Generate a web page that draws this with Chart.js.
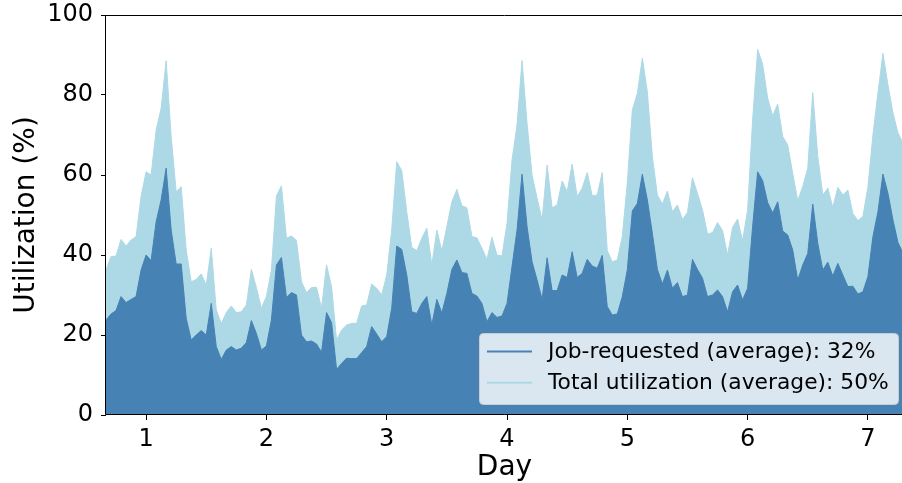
<!DOCTYPE html>
<html>
<head>
<meta charset="utf-8">
<script src="https://cdn.jsdelivr.net/npm/chart.js@4.4.1/dist/chart.umd.min.js"></script>
<style>
  html, body { margin: 0; padding: 0; background: #fff; overflow: hidden; }
  #wrap { width: 904px; height: 483px; }
</style>
</head>
<body>
<div id="wrap"><canvas id="chart" width="904" height="483"></canvas></div>
<script>
// Hourly samples; the first one is taken at 16:00 on day 0.
const FIRST_SAMPLE_DAY = 2 / 3;

// Job-requested utilization (%), one value per hour
const jobRequested = [
  23.75, 25.25, 26.1, 29.6, 28.1, 28.9, 29.6, 36.25, 40, 38.6,
  48.3, 53.75, 61.7, 46.25, 37.75, 37.75, 24.2, 18.75, 20, 21.1,
  20, 27.9, 17.1, 13.9, 16.25, 17.1, 16.25, 16.7, 18.1, 23.6,
  20.4, 16.25, 17.25, 23.75, 37.5, 39.4, 29.4, 30.6, 30, 20,
  18.3, 18.5, 17.75, 15.7, 25.6, 23.1, 11.4, 12.9, 14.2, 14.1,
  14.1, 15.6, 17.1, 22.1, 20.25, 18.3, 19.6, 26.7, 42.25, 41.4,
  35, 25.8, 25.4, 27.9, 29.6, 22.5, 28.9, 25.5, 30.4, 36.4,
  38.75, 35.6, 35.4, 30.4, 29.75, 27.9, 23.3, 25.6, 24.4, 24.75,
  27.9, 37.1, 46.25, 60.2, 47.1, 38.3, 33.75, 28.9, 39.3, 31.1,
  31.1, 35, 34.4, 40.8, 34.4, 35.4, 38.9, 37.25, 36.7, 39.9,
  27.1, 25, 25.25, 29.6, 36.25, 51, 52.9, 60.2, 53.75, 45.4,
  36.4, 32.75, 36.25, 31.7, 33.1, 29.6, 30, 38.9, 36.4, 34.2,
  29.6, 30, 31.25, 29.6, 25.8, 30.8, 32.5, 28.75, 31.7, 47.1,
  60.8, 58.6, 53.1, 50.5, 53.3, 46, 45, 41.25, 33.75, 37.5,
  40.4, 52.75, 42.9, 36.25, 38.2, 34.75, 37.9, 35, 32.1, 32.2,
  30.25, 30.8, 34.6, 44.6, 50.8, 60.25, 55.4, 48.75, 43.1, 40.5
];

// Total utilization (%), one value per hour
const totalUtilization = [
  36.25, 39.6, 39.75, 43.9, 42.25, 43.75, 44.6, 54.6, 60.8, 60,
  71.25, 76.7, 88.6, 69.6, 55.8, 57.1, 41.25, 33.3, 33.9, 35.25,
  32.5, 41.7, 26.25, 22.9, 25.6, 27.25, 25.6, 25.8, 27.5, 36.4,
  31.9, 26.7, 29.6, 36.25, 54.75, 57.3, 44.2, 44.75, 43.6, 33.3,
  30.6, 31.9, 31.9, 26.7, 37.5, 32.1, 18.75, 21.25, 22.5, 22.9,
  22.9, 27.25, 27.5, 32.75, 31.7, 30, 35, 46.25, 63.3, 61.1,
  50.8, 41.9, 41.1, 44.2, 46.7, 37.5, 46.25, 41, 47.1, 53.3,
  56.4, 52.3, 51.8, 44.6, 44.3, 41.7, 38.9, 44.4, 40, 39.75,
  47.9, 63.75, 72.5, 88.6, 72.9, 60, 54.2, 48.75, 62.5, 51.8,
  52.5, 58.5, 55.8, 62.75, 54.6, 56.7, 60.6, 54.8, 55, 60.6,
  41.1, 38.3, 38.75, 44.6, 58, 76.25, 80.4, 89.2, 80.8, 64.6,
  55, 52.75, 56, 50.8, 52.5, 48.9, 50.6, 59.3, 55.4, 51.25,
  45.25, 45.6, 48.1, 46.1, 40, 46.9, 49, 43.6, 51.25, 73.75,
  91.4, 87.7, 79.2, 74.75, 77.75, 69.6, 67.5, 60.4, 53.6, 57.1,
  61.7, 80.6, 64.6, 55, 56.7, 51.9, 56.9, 55, 56.25, 50.4,
  48.6, 49.6, 57, 70, 80.5, 90.4, 82.5, 75.5, 70.5, 68
];

const dayTicks = [1, 2, 3, 4, 5, 6, 7];
const utilizationTicks = [0, 20, 40, 60, 80, 100];
const seriesLabels = [
  'Job-requested (average): 32%',
  'Total utilization (average): 50%'
];

const FONT = "'DejaVu Sans', 'Liberation Sans', sans-serif";
const STEEL_BLUE = '#4682b4';
const LIGHT_BLUE = '#add8e6';

const sampleDays = jobRequested.map((_, i) => FIRST_SAMPLE_DAY + i / 24);
const asPoints = values => values.map((v, i) => ({ x: sampleDays[i], y: v }));

// Axes frame drawn above the filled areas
const frame = {
  id: 'frame',
  afterDatasetsDraw(chart) {
    const { ctx, chartArea: a } = chart;
    ctx.save();
    ctx.strokeStyle = '#000';
    ctx.lineWidth = 1;
    ctx.beginPath();
    ctx.moveTo(a.left - 0.5, a.bottom - 0.5);
    ctx.lineTo(a.left - 0.5, a.top + 0.5);
    ctx.lineTo(a.right + 0.5, a.top + 0.5);
    ctx.lineTo(a.right + 0.5, a.bottom - 0.5);
    ctx.lineTo(a.left - 0.5, a.bottom - 0.5);
    ctx.stroke();
    ctx.restore();
  }
};

// Legend box in the lower right corner of the plot
const legendBox = {
  id: 'legendBox',
  afterDraw(chart) {
    const { ctx, chartArea: a } = chart;
    const w = 419, h = 71, r = 4;
    const x = a.right - 4 - w - 0.5;
    const y = a.bottom - 10 - h - 0.5;
    ctx.save();
    ctx.beginPath();
    ctx.moveTo(x + r, y);
    ctx.lineTo(x + w - r, y);
    ctx.arcTo(x + w, y, x + w, y + r, r);
    ctx.lineTo(x + w, y + h - r);
    ctx.arcTo(x + w, y + h, x + w - r, y + h, r);
    ctx.lineTo(x + r, y + h);
    ctx.arcTo(x, y + h, x, y + h - r, r);
    ctx.lineTo(x, y + r);
    ctx.arcTo(x, y, x + r, y, r);
    ctx.closePath();
    ctx.fillStyle = 'rgba(255,255,255,0.8)';
    ctx.fill();
    ctx.strokeStyle = '#cccccc';
    ctx.lineWidth = 1;
    ctx.stroke();

    ctx.font = `21.8px ${FONT}`;
    ctx.textBaseline = 'middle';
    ctx.textAlign = 'left';
    chart.data.datasets.forEach((ds, i) => {
      const ly = y + 18 + i * 31.3;
      ctx.strokeStyle = ds.borderColor;
      ctx.lineWidth = 2;
      ctx.beginPath();
      ctx.moveTo(x + 7.5, ly);
      ctx.lineTo(x + 52.5, ly);
      ctx.stroke();
      ctx.fillStyle = '#000';
      ctx.fillText(ds.label, x + 68.5, ly + 1);
    });
    ctx.restore();
  }
};

new Chart(document.getElementById('chart'), {
  type: 'line',
  data: {
    datasets: [
      {
        label: seriesLabels[0],
        data: asPoints(jobRequested),
        borderColor: STEEL_BLUE,
        backgroundColor: STEEL_BLUE,
        borderWidth: 1,
        fill: 'origin',
        pointRadius: 0,
        tension: 0
      },
      {
        label: seriesLabels[1],
        data: asPoints(totalUtilization),
        borderColor: LIGHT_BLUE,
        backgroundColor: LIGHT_BLUE,
        borderWidth: 1,
        fill: 'origin',
        pointRadius: 0,
        tension: 0
      }
    ]
  },
  options: {
    responsive: false,
    animation: false,
    devicePixelRatio: 1,
    layout: { padding: { top: 15, right: 1, left: 0, bottom: 0 } },
    plugins: {
      legend: { display: false },
      tooltip: { enabled: false }
    },
    scales: {
      x: {
        type: 'linear',
        min: sampleDays[0],
        max: sampleDays[sampleDays.length - 1],
        afterBuildTicks: s => { s.ticks = dayTicks.map(v => ({ value: v })); },
        afterFit: s => { s.height = 68; s.paddingLeft = 0; s.paddingRight = 0; },
        border: { display: false },
        grid: { display: true, drawOnChartArea: false, drawTicks: true, tickLength: 5, color: '#000', lineWidth: 1 },
        ticks: { font: { family: FONT, size: 24 }, color: '#000', padding: 5, maxRotation: 0, autoSkip: false,
                 callback: v => String(v) },
        title: { display: true, text: 'Day', font: { family: FONT, size: 28 }, color: '#000',
                 padding: { top: 0, bottom: -2 } }
      },
      y: {
        min: 0,
        max: 100,
        afterBuildTicks: s => { s.ticks = utilizationTicks.map(v => ({ value: v })); },
        afterFit: s => { s.width = 106; s.paddingTop = 0; s.paddingBottom = 0; },
        border: { display: false },
        grid: { display: true, drawOnChartArea: false, drawTicks: true, tickLength: 5, color: '#000', lineWidth: 1 },
        ticks: { font: { family: FONT, size: 24 }, color: '#000', padding: 8, autoSkip: false,
                 callback: v => String(v) },
        title: { display: true, text: 'Utilization (%)', font: { family: FONT, size: 28 }, color: '#000',
                 padding: { top: 10, bottom: 0 } }
      }
    }
  },
  plugins: [frame, legendBox]
});
</script>
</body>
</html>
